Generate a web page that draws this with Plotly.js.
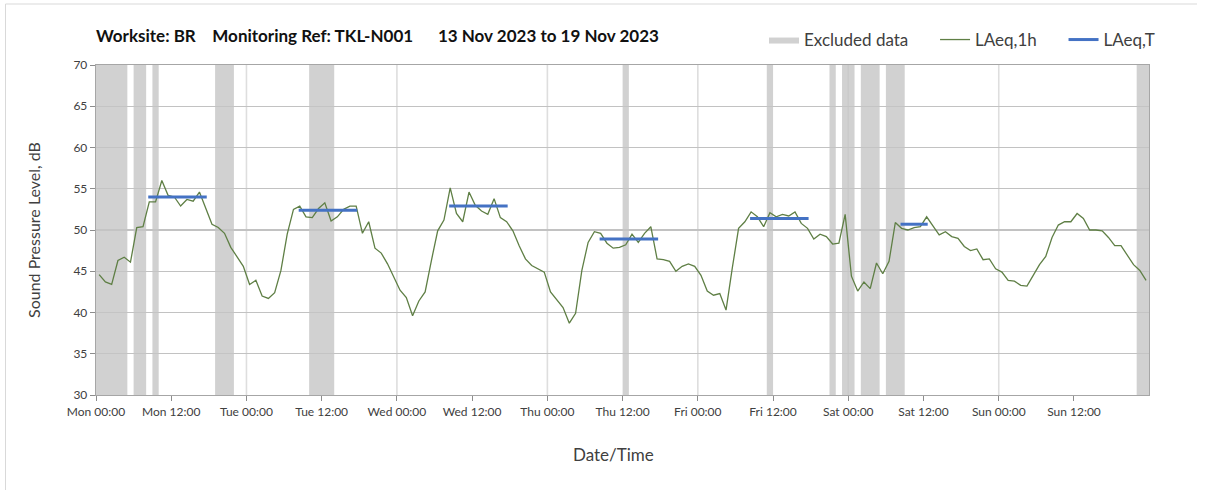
<!DOCTYPE html>
<html>
<head>
<meta charset="utf-8">
<script src="https://cdn.plot.ly/plotly-3.0.1.min.js"></script>
<style>
html,body{margin:0;padding:0;background:#ffffff;}
#chart{width:1208px;height:490px;}
</style>
</head>
<body>
<div id="chart"></div>
<script>
// ---------------- DATA ----------------
const seriesStart = '2023-11-13 00:00';
const axisStart = '2023-11-13 00:00';
const axisEnd = '2023-11-20 00:00';

// Hourly LAeq,1h values (dB), hour beginning Mon 13 Nov 00:00 ... Sun 19 Nov 23:00
const laeq1h = [
  44.6, 43.7, 43.4, 46.3, 46.7, 46.1, 50.3, 50.4, 53.4, 53.4, 56.0, 54.2,
  54.0, 52.9, 53.7, 53.5, 54.6, 52.6, 50.7, 50.3, 49.6, 47.9, 46.8, 45.6,
  43.4, 43.9, 42.0, 41.7, 42.4, 45.1, 49.5, 52.5, 52.9, 51.6, 51.5, 52.6,
  53.3, 51.1, 51.6, 52.5, 52.9, 52.9, 49.6, 51.0, 47.8, 47.2, 45.9, 44.3,
  42.7, 41.8, 39.6, 41.4, 42.5, 46.3, 49.9, 51.2, 55.1, 52.0, 51.0, 54.6,
  53.0, 52.3, 51.9, 53.8, 51.5, 51.0, 49.9, 48.1, 46.5, 45.7, 45.3, 44.9,
  42.5, 41.5, 40.6, 38.7, 39.9, 45.1, 48.5, 49.8, 49.6, 48.4, 47.8, 47.9,
  48.2, 49.5, 48.5, 49.6, 50.4, 46.5, 46.4, 46.2, 45.0, 45.6, 45.9, 45.6,
  44.5, 42.6, 42.1, 42.3, 40.3, 45.4, 50.2, 51.0, 52.2, 51.6, 50.4, 52.1,
  51.6, 51.9, 51.7, 52.2, 50.8, 50.2, 48.9, 49.5, 49.2, 48.3, 48.4, 51.9,
  44.4, 42.6, 43.7, 42.9, 46.0, 44.7, 46.2, 50.9, 50.2, 50.0, 50.3, 50.4,
  51.6, 50.5, 49.4, 49.8, 49.2, 49.0, 48.0, 47.5, 47.7, 46.4, 46.5, 45.3,
  44.9, 43.9, 43.8, 43.3, 43.2, 44.5, 45.8, 46.8, 49.1, 50.6, 51.0, 51.0,
  52.0, 51.4, 50.0, 50.0, 49.9, 49.1, 48.1, 48.1, 46.9, 45.8, 45.1, 43.9
];

// LAeq,T daytime period values
const periodStart = ['2023-11-13 08:20', '2023-11-14 08:20', '2023-11-15 08:20', '2023-11-16 08:20', '2023-11-17 08:20', '2023-11-18 08:20'];
const periodEnd   = ['2023-11-13 17:40', '2023-11-14 17:40', '2023-11-15 17:40', '2023-11-16 17:40', '2023-11-17 17:40', '2023-11-18 12:40'];
const laeqT       = [54.0, 52.4, 52.9, 48.9, 51.4, 50.7];

// Excluded data periods
const excludedStart = ['2023-11-13 00:00', '2023-11-13 06:00', '2023-11-13 09:00', '2023-11-13 19:00',
                       '2023-11-14 10:00', '2023-11-16 12:00', '2023-11-17 11:00', '2023-11-17 21:00',
                       '2023-11-17 23:00', '2023-11-18 02:00', '2023-11-18 06:00', '2023-11-19 22:00'];
const excludedEnd   = ['2023-11-13 05:00', '2023-11-13 08:00', '2023-11-13 10:00', '2023-11-13 22:00',
                       '2023-11-14 14:00', '2023-11-16 13:00', '2023-11-17 12:00', '2023-11-17 22:00',
                       '2023-11-18 01:00', '2023-11-18 05:00', '2023-11-18 09:00', '2023-11-20 00:00'];
const yMin = 30, yMax = 70;

// ---------------- BUILD ----------------
const HOUR = 3600000, DAY = 86400000;
function ms(s){ return Date.parse(s.replace(' ', 'T') + ':00Z'); }
const t0 = ms(seriesStart);
const hourX = laeq1h.map((v, i) => t0 + (i + 0.5) * HOUR);

// excluded periods as closed polygons (one per period)
const exX = [], exY = [];
excludedStart.forEach((s, i) => {
  const a = ms(s), b = ms(excludedEnd[i]);
  exX.push(a, a, b, b, a, null);
  exY.push(yMin, yMax, yMax, yMin, yMin, null);
});

const tX = [], tY = [];
periodStart.forEach((s, i) => {
  tX.push(ms(s), ms(periodEnd[i]), null);
  tY.push(laeqT[i], laeqT[i], null);
});

const FONT = 'Lato, "Open Sans", "DejaVu Sans", sans-serif';
const GAP = '\u00a0\u00a0\u00a0\u00a0\u00a0';

const traces = [
  {
    type: 'scatter', mode: 'lines', name: 'Excluded data' + GAP,
    x: exX, y: exY, fill: 'toself', fillcolor: 'rgba(196,196,196,0.78)',
    line: {width: 0, color: 'rgba(0,0,0,0)'}, hoverinfo: 'skip'
  },
  {
    type: 'scatter', mode: 'lines', name: 'LAeq,1h' + GAP,
    x: hourX, y: laeq1h,
    line: {color: '#5f7f45', width: 1.3}
  },
  {
    type: 'scatter', mode: 'lines', name: 'LAeq,T',
    x: tX, y: tY, connectgaps: false,
    line: {color: '#4472c4', width: 3}
  }
];

// vertical day gridlines
const shapes = [];
const a0 = ms(axisStart), a1 = ms(axisEnd);
for (let d = a0 + DAY; d < a1; d += DAY) {
  shapes.push({type: 'line', xref: 'x', yref: 'paper', x0: d, x1: d, y0: 0, y1: 1,
               layer: 'between', line: {color: '#dedede', width: 1.6}});
}
// outer chart border (left and top edges)
const plotL = 96, plotR = 1149, plotT = 65, plotB = 395;
const pw = plotR - plotL, ph = plotB - plotT;
function px(x){ return (x - plotL) / pw; }
function py(y){ return (plotB - y) / ph; }
shapes.push({type: 'line', xref: 'paper', yref: 'paper', x0: px(5.5), x1: px(5.5), y0: py(4), y1: py(492),
             line: {color: '#d9d9d9', width: 1}});
shapes.push({type: 'line', xref: 'paper', yref: 'paper', x0: px(5.5), x1: px(1197), y0: py(4), y1: py(4),
             line: {color: '#d9d9d9', width: 1}});

const layout = {
  width: 1208, height: 490,
  margin: {l: plotL, r: 1208 - plotR, t: plotT, b: 490 - plotB, pad: 0},
  paper_bgcolor: '#ffffff', plot_bgcolor: '#ffffff',
  font: {family: FONT, color: '#404040', size: 12},
  showlegend: true,
  title: {
    text: '<b>Worksite: BR\u00a0\u00a0\u00a0 Monitoring Ref: TKL-N001\u00a0\u00a0\u00a0\u00a0\u00a0 13 Nov 2023 to 19 Nov 2023</b>',
    font: {family: FONT, size: 17, color: '#111111'},
    xref: 'paper', x: 0, xanchor: 'left',
    yref: 'container', y: 1 - 36 / 490, yanchor: 'middle'
  },
  legend: {
    orientation: 'h', x: px(764), xanchor: 'left', y: 1 + 25 / ph, yanchor: 'middle',
    font: {family: FONT, size: 17, color: '#404040'},
    bgcolor: 'rgba(0,0,0,0)', itemwidth: 30, traceorder: 'normal'
  },
  xaxis: {
    type: 'date', range: [axisStart, '2023-11-19 23:58'],
    tick0: axisStart, dtick: 12 * HOUR, tickformat: '%a %H:%M',
    ticks: 'outside', ticklen: 5, tickcolor: '#8c8c8c', tickwidth: 1,
    showgrid: false, zeroline: false,
    showline: true, mirror: true, linecolor: '#a6a6a6', linewidth: 1.3,
    tickfont: {family: FONT, size: 12, color: '#404040'},
    fixedrange: true
  },
  yaxis: {
    range: [yMin, yMax], dtick: 5, tick0: 30,
    ticks: 'outside', ticklen: 5, tickcolor: '#8c8c8c', tickwidth: 1,
    showgrid: true, gridcolor: '#c2c2c2', gridwidth: 1.2, zeroline: false,
    showline: true, mirror: true, linecolor: '#a6a6a6', linewidth: 1.3,
    tickfont: {family: FONT, size: 12, color: '#404040'},
    title: {text: 'Sound Pressure Level, dB', font: {family: FONT, size: 16, color: '#404040'}, standoff: 28},
    fixedrange: true
  },
  annotations: [{
    text: 'Date/Time', showarrow: false,
    xref: 'paper', x: px(613), xanchor: 'center',
    yref: 'paper', y: py(454), yanchor: 'middle',
    font: {family: FONT, size: 17, color: '#404040'}
  }],
  shapes: shapes
};

Plotly.newPlot('chart', traces, layout, {displayModeBar: false, staticPlot: true});
</script>
</body>
</html>
